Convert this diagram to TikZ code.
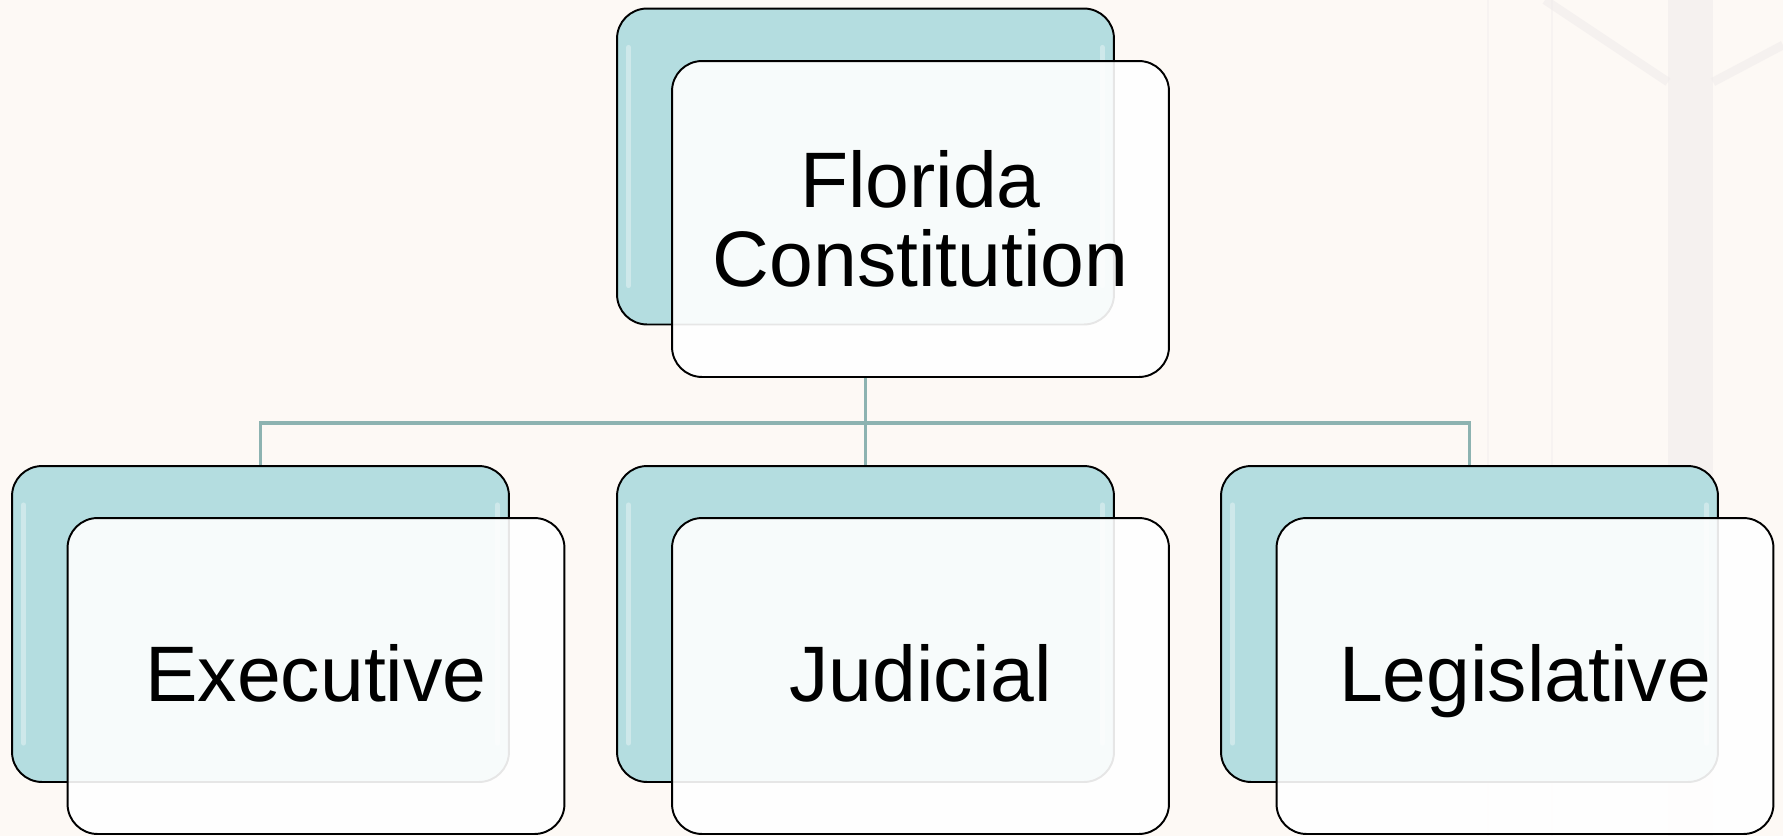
\documentclass[tikz,border=0pt]{standalone}
\usepackage{fontspec}
\setmainfont{Liberation Sans}
\begin{document}
\begin{tikzpicture}[x=0.02cm,y=-0.02cm]
\definecolor{bgc}{HTML}{FDF9F5}
\definecolor{tealc}{HTML}{B4DDE0}
\definecolor{connc}{HTML}{8DB3B1}
\definecolor{treec}{HTML}{EFEBEB}
\tikzset{
  backbox/.style={draw=black,line width=1.1pt,rounded corners=0.6cm,fill=tealc,
    minimum width=9.94cm,minimum height=6.32cm,inner sep=0pt},
  frontbox/.style={draw=black,line width=1.1pt,rounded corners=0.6cm,fill=white,fill opacity=0.9,text opacity=1,
    minimum width=9.94cm,minimum height=6.32cm,inner sep=0pt,align=center,
    font=\fontsize{44.8}{45}\selectfont},
  oneline/.style={text height=40pt,text depth=11pt},
  conn/.style={draw=connc,line width=2pt},
  gloss/.style={white,opacity=0.35,line width=3pt,line cap=round}
}
% background
\fill[bgc] (0,0) rectangle (1783,836);
\useasboundingbox (0,0) rectangle (1783,836);
\fill[treec,opacity=0.5] (1668,0) rectangle (1713,836);
\draw[treec,line width=5pt,opacity=0.5] (1545,0) -- (1668,82);
\draw[treec,line width=5pt,opacity=0.5] (1713,82) -- (1783,45);
\draw[treec,line width=1pt,opacity=0.4] (1488,0) -- (1488,836);
\draw[treec,line width=1pt,opacity=0.4] (1552,0) -- (1552,836);

% back boxes
\node[backbox] (topback) at (865.5,166.5) {};
\node[backbox] (execback) at (260.5,624) {};
\node[backbox] (judback) at (865.5,624) {};
\node[backbox] (legback) at (1469.5,624) {};
\foreach \n in {topback,execback,judback,legback}{
  \draw[gloss] ([xshift=0.25cm,yshift=-0.8cm]\n.north west) -- ([xshift=0.25cm,yshift=0.8cm]\n.south west);
  \draw[gloss] ([xshift=-0.25cm,yshift=-0.8cm]\n.north east) -- ([xshift=-0.25cm,yshift=0.8cm]\n.south east);
}

% front boxes
\node[frontbox] (topfront) at (920.5,219) {Florida\\Constitution};
\node[frontbox,oneline] (execfront) at (316,676) {Executive};
\node[frontbox,oneline] (judfront) at (920.5,676) {Judicial};
\node[frontbox,oneline] (legfront) at (1525,676) {Legislative};

% connectors
\coordinate (bus) at (865.5,423);
\draw[conn] (topfront.south -| topback.center) -- (bus);
\draw[conn] (bus) -| (execback.north);
\draw[conn] (bus) -- (judback.north);
\draw[conn] (bus) -| (legback.north);
\end{tikzpicture}
\end{document}
